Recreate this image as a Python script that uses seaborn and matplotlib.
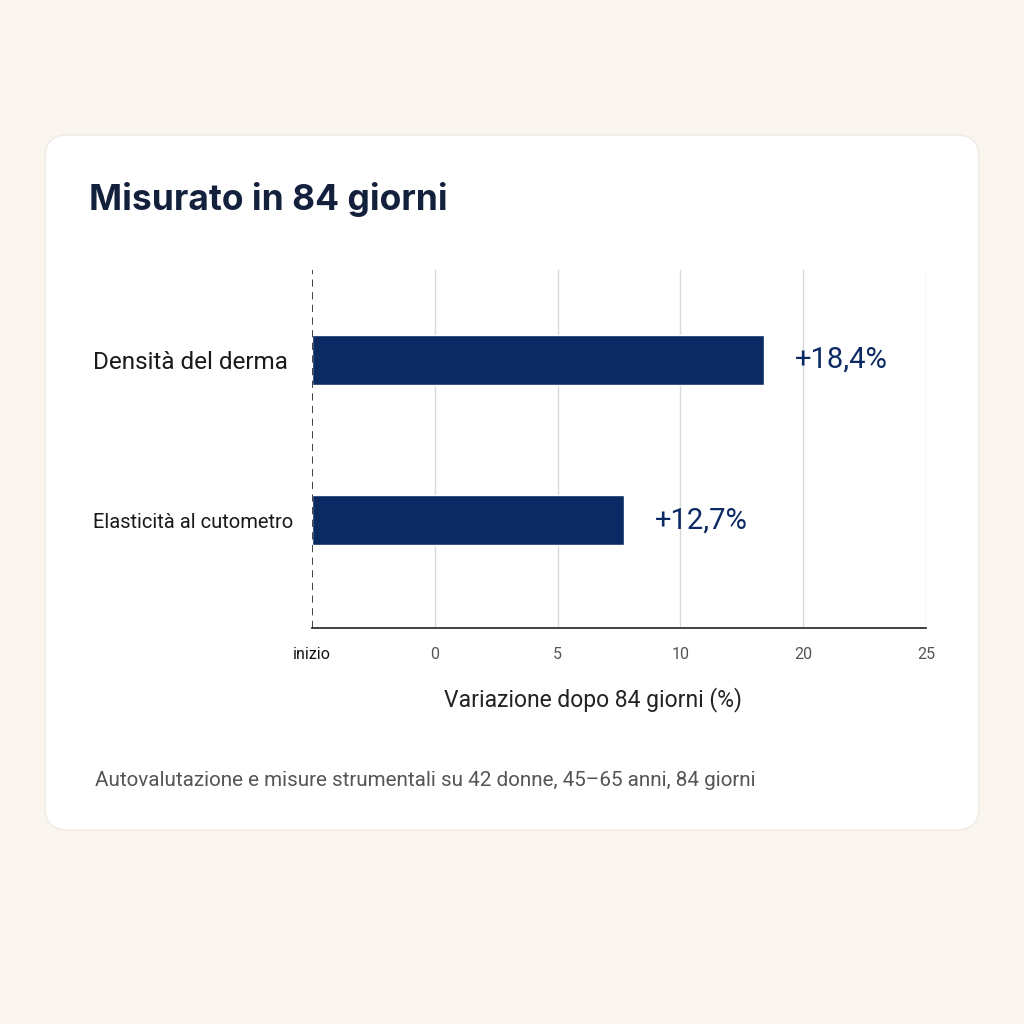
import matplotlib
matplotlib.use("Agg")
import matplotlib.pyplot as plt
from matplotlib.patches import FancyBboxPatch
import pandas as pd
import seaborn as sns

# data
categories = ["Densità del derma", "Elasticità al cutometro"]
values = [18.4, 12.7]
value_labels = ["+18,4%", "+12,7%"]
tick_values = [0, 5, 10, 15, 20, 25]
tick_labels = ["inizio", "0", "5", "10", "20", "25"]

BG = "#FAF6EF"
CARD = "#FFFFFF"
NAVY = "#0B2A63"
TITLE = "#14213D"
GREY = "#555555"

sns.set_theme(style="white")
plt.rcParams["font.family"] = ["Roboto", "DejaVu Sans"]

fig = plt.figure(figsize=(10.24, 10.24), dpi=100, facecolor=BG)

card = FancyBboxPatch(
    (0.044, 0.1895), 0.912, 0.6787,
    boxstyle="round,pad=0,rounding_size=0.022",
    transform=fig.transFigure, facecolor=CARD,
    edgecolor="#EFEBE3", linewidth=1.0, zorder=-10,
)
fig.patches.append(card)

ax = fig.add_axes([0.3047, 0.387, 0.5996, 0.349])
ax.set_facecolor("none")
ax.set_zorder(2)

df = pd.DataFrame({"item": categories, "value": values})
sns.barplot(data=df, x="value", y="item", orient="h", color=NAVY,
            width=0.31, saturation=1, ax=ax, zorder=3)

ax.set_xlim(0, 25)
ax.set_ylim(1.67, -0.56)
ax.set_xticks(tick_values)
ax.set_xticklabels(tick_labels)
for lbl in ax.get_xticklabels():
    lbl.set_fontsize(11.5)
    lbl.set_color(GREY)
ax.get_xticklabels()[0].set_color("#111111")
ax.tick_params(axis="x", length=0, pad=14)

# category labels, left aligned inside the card
ax.tick_params(axis="y", length=0, pad=158)
ylabels = ax.get_yticklabels()
for lbl in ylabels:
    lbl.set_horizontalalignment("left")
    lbl.set_fontsize(17.5)
    lbl.set_color("#1A1A1A")
ylabels[1].set_fontsize(14.5)

for x in tick_values[1:]:
    ax.axvline(x, color="#D9D9D9", linewidth=1.0, zorder=1)
ax.axvline(0, color="#333333", linewidth=1.3, linestyle=(0, (4, 3)), zorder=4)

for i, (v, lab) in enumerate(zip(values, value_labels)):
    ax.text(v + 1.25, i, lab, va="center", ha="left", fontsize=21,
            color=NAVY)

for side in ["top", "right", "left"]:
    ax.spines[side].set_visible(False)
ax.spines["bottom"].set_color("#333333")
ax.spines["bottom"].set_linewidth(1.3)

ax.set_ylabel("")
ax.set_xlabel("Variazione dopo 84 giorni (%)", fontsize=16.5, color="#222222",
              labelpad=22)
ax.xaxis.set_label_coords(0.457, -0.2)
ax.xaxis.label.set_verticalalignment("center")

fig.text(0.087, 0.805, "Misurato in 84 giorni", fontsize=25.5, fontweight="bold",
         color=TITLE, family=["Inter", "DejaVu Sans"], va="center", ha="left")
fig.text(0.093, 0.238,
         "Autovalutazione e misure strumentali su 42 donne, 45–65 anni, 84 giorni",
         fontsize=14.9, color=GREY, va="center", ha="left")

fig.savefig("out.png", dpi=100, facecolor=BG)
